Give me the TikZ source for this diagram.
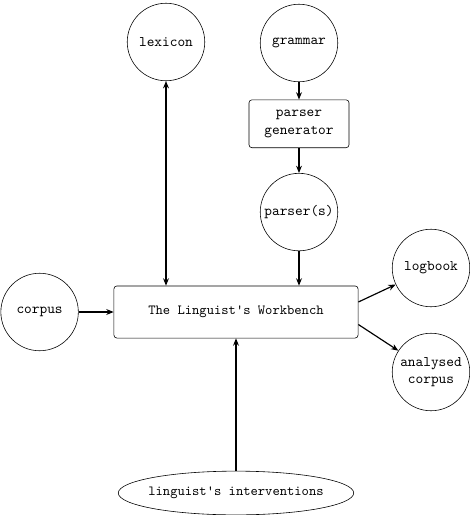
\documentclass[tikz,border=0pt]{standalone}
\usepackage{tikz}
\usetikzlibrary{positioning, shapes.geometric, arrows.meta}

\begin{document}
\begin{tikzpicture}[
        x=0.024cm, y=-0.024cm,
        font=\ttfamily,
        blob/.style={circle, draw, thin, minimum size=1.86cm, inner sep=0pt,
                     align=center},
        box/.style={rectangle, draw, thin, rounded corners=2pt, align=center},
        arrow/.style={-{Stealth[length=5pt,width=4pt]}, thick},
        darrow/.style={{Stealth[length=5pt,width=4pt]}-{Stealth[length=5pt,width=4pt]}, thick}
    ]
    \useasboundingbox (0,0) rectangle (470,515);

    %% centre: the workbench
    \node[box, minimum width=5.86cm, minimum height=1.25cm,
          font=\ttfamily\fontsize{9.5}{11}\selectfont] (wb) at (236,312)
          {The Linguist's Workbench};

    %% upper inputs
    \node[blob] (lexicon) at (166,42) {lexicon};
    \node[blob] (grammar) at (299,43) {grammar};
    \node[box, minimum width=2.4cm, minimum height=1.15cm,
          below=0.42cm of grammar] (pgen) {parser\\generator};
    \node[blob, below=0.6cm of pgen] (parsers) {parser(s)};

    \draw[darrow] (lexicon.south) -- (lexicon.south |- wb.north);
    \draw[arrow] (grammar) -- (pgen);
    \draw[arrow] (pgen) -- (parsers);
    \draw[arrow] (parsers.south) -- (parsers.south |- wb.north);

    %% left input
    \node[blob, left=0.84cm of wb] (corpus) {corpus};
    \draw[arrow] (corpus) -- (wb);

    %% right outputs
    \node[blob] (logbook) at (431,268) {logbook};
    \node[blob] (analysed) at (431,372) {analysed\\corpus};
    \draw[arrow] ([yshift=0.24cm]wb.east) -- (logbook);
    \draw[arrow] ([yshift=-0.3cm]wb.east) -- (analysed);

    %% bottom input
    \node[ellipse, draw, thin, minimum width=5.47cm, minimum height=1.05cm,
          inner xsep=-3pt, inner ysep=1pt,
          font=\ttfamily\fontsize{9.5}{11}\selectfont] (interv) at (236,493)
          {linguist's interventions};
    \draw[arrow] (interv.north) -- (interv.north |- wb.south);

\end{tikzpicture}
\end{document}
